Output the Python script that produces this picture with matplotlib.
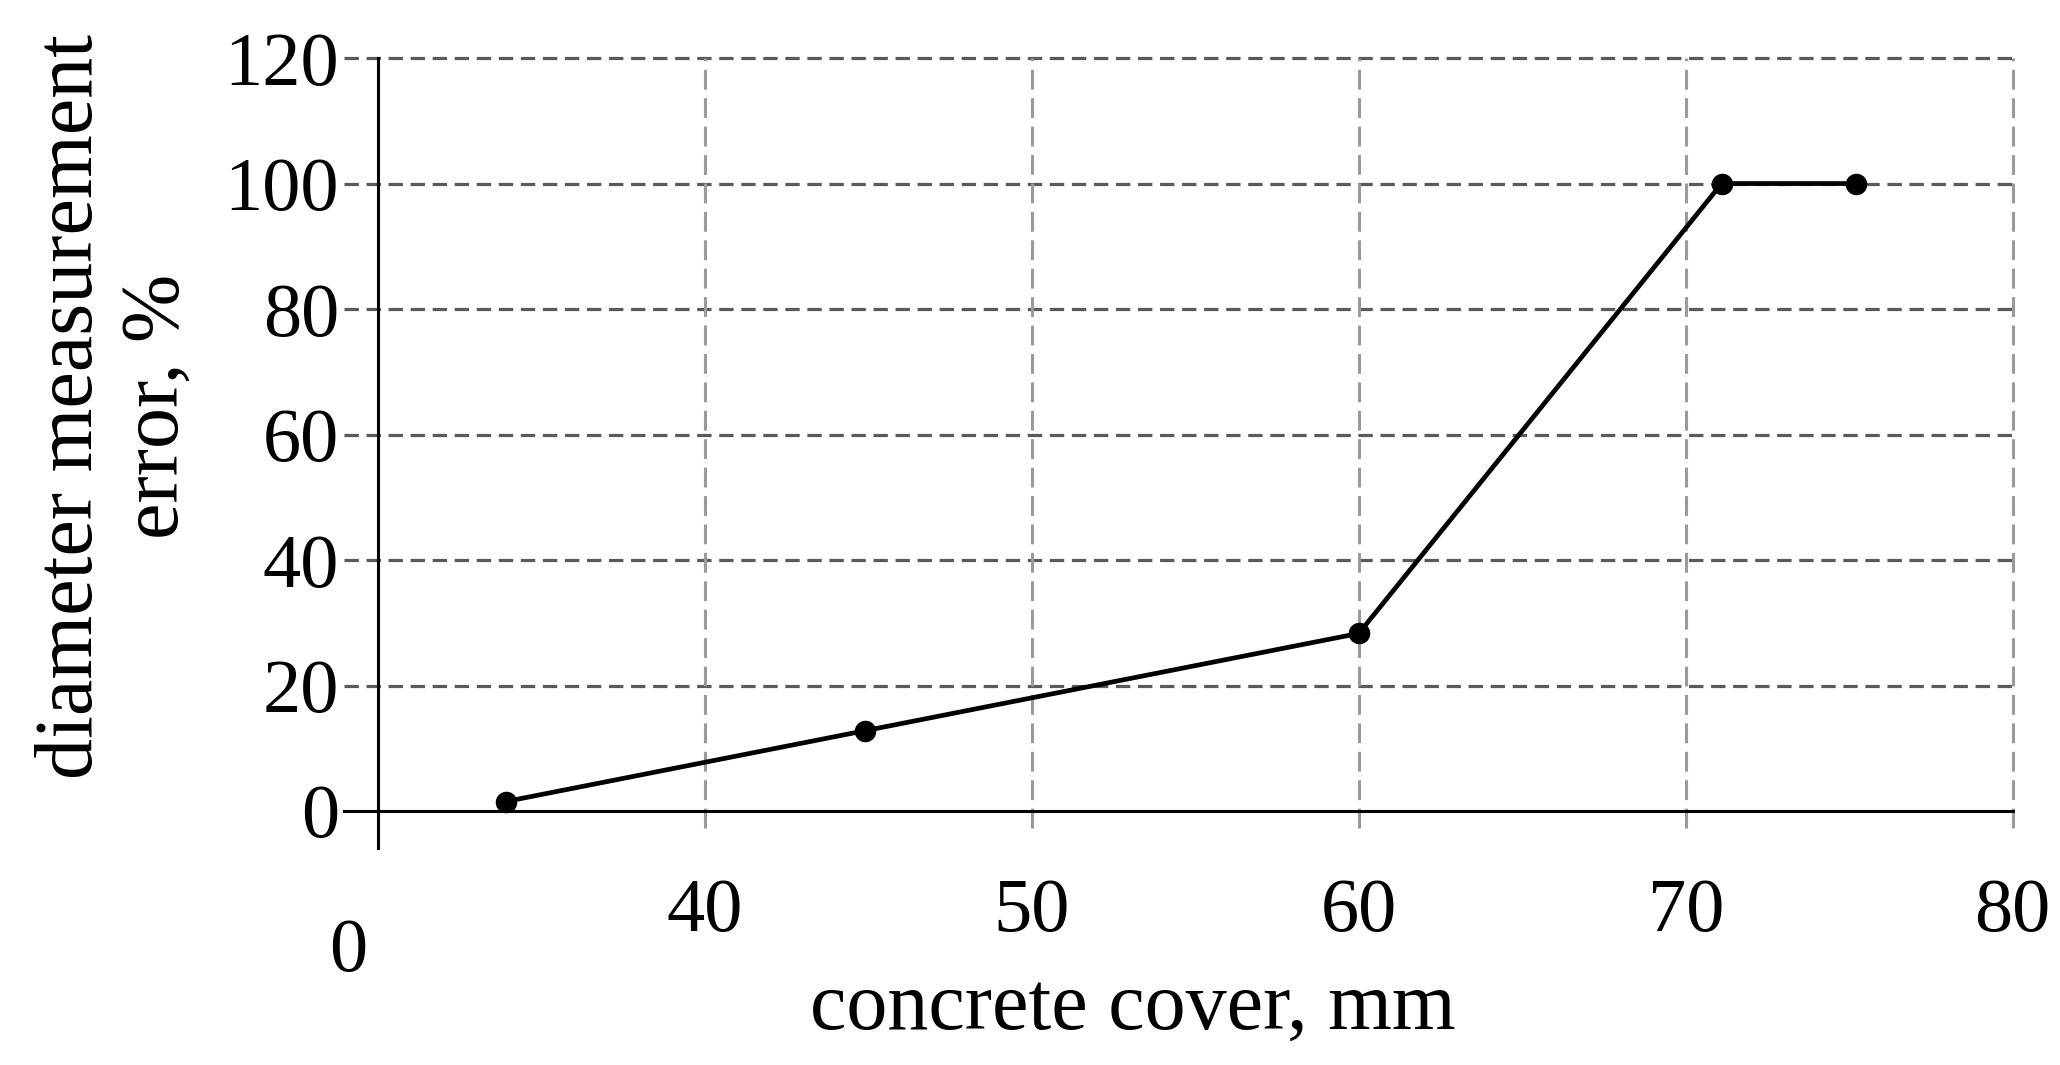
import matplotlib
matplotlib.use("Agg")
import matplotlib.pyplot as plt
from matplotlib.transforms import ScaledTranslation

# --- data ---
cover_mm = [33.9, 44.9, 60.0, 71.1, 75.2]
error_pct = [1.5, 12.8, 28.3, 100.0, 100.0]

x_ticks = [30, 40, 50, 60, 70, 80]
x_tick_labels = ["0", "40", "50", "60", "70", "80"]
y_ticks = [0, 20, 40, 60, 80, 100, 120]

plt.rcParams['font.family'] = ['Liberation Serif', 'DejaVu Serif']

fig = plt.figure(figsize=(20.6, 10.65), dpi=100)
ax = fig.add_axes([0.1835, 0.2385, 0.977 - 0.1835, 0.9455 - 0.2385])

ax.set_xlim(x_ticks[0], x_ticks[-1])
ax.set_ylim(y_ticks[0], y_ticks[-1])
ax.set_xticks(x_ticks)
ax.set_xticklabels(x_tick_labels)
ax.set_yticks(y_ticks)

# grid lines, drawn a bit past the axes like the tick marks in the original
for yv in y_ticks[1:]:
    ax.axhline(yv, xmin=-0.021, xmax=1, color='#5a5a5a', lw=2.3,
               dashes=(4.5, 2.4), clip_on=False, zorder=1)
for xv in x_ticks[1:]:
    ax.axvline(xv, ymin=-0.023, ymax=1, color='#9a9a9a', lw=2.2,
               dashes=(6.5, 2.8), clip_on=False, zorder=1)

# axis lines (solid, crossing)
ax.axhline(0, xmin=-0.021, xmax=1, color='black', lw=2.2, clip_on=False, zorder=2)
ax.axvline(x_ticks[0], ymin=-0.049, ymax=1, color='black', lw=2.2, clip_on=False, zorder=2)

for s in ax.spines.values():
    s.set_visible(False)

ax.tick_params(axis='both', length=0, labelsize=55, colors='black')
ax.tick_params(axis='y', pad=28)
ax.tick_params(axis='x', pad=48)

ax.plot(cover_mm, error_pct, color='black', lw=3.4, marker='o',
        markersize=14.5, zorder=3, clip_on=False)

fig.text(0.0558, 0.618, "diameter measurement\nerror, %", rotation=90,
         ha='center', va='center', fontsize=59, linespacing=1.18,
         multialignment='center')
fig.text(0.55, 0.034, "concrete cover, mm", ha='center', va='baseline', fontsize=59)

# the first x label sits lower and to the left in the original
lbl = ax.xaxis.get_major_ticks()[0].label1
lbl.set_transform(lbl.get_transform() + ScaledTranslation(-0.3, -0.4, fig.dpi_scale_trans))

fig.savefig("out.png", dpi=100)
